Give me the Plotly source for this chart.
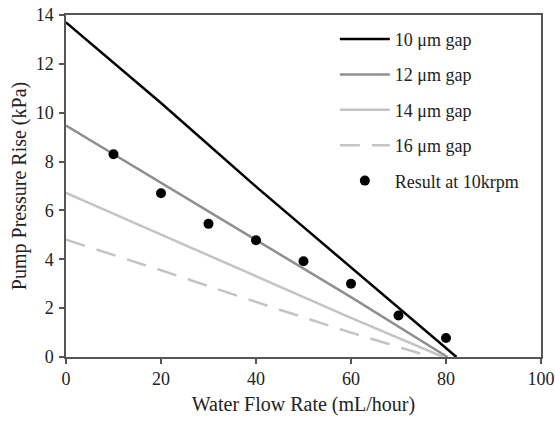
import plotly.graph_objects as go

flow_10 = [0, 20, 40.8, 60, 82.2]
p_10 = [13.7, 10.4, 6.84, 3.65, 0.0]

flow_12 = [0, 22.5, 40, 60, 80.3]
p_12 = [9.47, 6.84, 4.8, 2.45, 0.0]

flow_14 = [0, 17.7, 40, 60, 79.4]
p_14 = [6.72, 5.2, 3.3, 1.6, 0.0]

flow_16 = [0, 20, 43, 60, 77.0]
p_16 = [4.8, 3.55, 2.06, 1.0, 0.0]

flow_exp = [10, 20, 30, 40, 50, 60, 70, 80]
p_exp = [8.3, 6.7, 5.45, 4.78, 3.92, 3.0, 1.7, 0.78]

FONT = "Liberation Serif"

fig = go.Figure()
fig.add_trace(go.Scatter(x=flow_10, y=p_10, mode="lines", name="10 μm gap",
                         line=dict(color="black", width=2.5), legendgroup="a"))
fig.add_trace(go.Scatter(x=flow_12, y=p_12, mode="lines", name="12 μm gap",
                         line=dict(color="#8f8f8f", width=2.5), legendgroup="b"))
fig.add_trace(go.Scatter(x=flow_14, y=p_14, mode="lines", name="14 μm gap",
                         line=dict(color="#c4c4c4", width=2.5), legendgroup="c"))
fig.add_trace(go.Scatter(x=flow_16, y=p_16, mode="lines", name="16 μm gap",
                         line=dict(color="#c4c4c4", width=2.5, dash="20px,12px"), legendgroup="d"))
fig.add_trace(go.Scatter(x=flow_exp, y=p_exp, mode="markers", name="Result at 10krpm",
                         marker=dict(color="black", size=10), legendgroup="e"))

axis_common = dict(showline=True, linecolor="#555", linewidth=1.5, mirror=True,
                   ticks="outside", ticklen=5, tickcolor="#555", tickwidth=1.5,
                   showgrid=False, zeroline=False, automargin=False,
                   tickfont=dict(family=FONT, size=18, color="#222"))

fig.update_layout(
    width=555, height=421,
    margin=dict(l=66, r=14, t=15, b=64),
    paper_bgcolor="white", plot_bgcolor="white",
    font=dict(family=FONT, color="#222"),
    xaxis=dict(range=[0, 100], dtick=20, **axis_common,
               title=dict(text="Water Flow Rate (mL/hour)", font=dict(family=FONT, size=20), standoff=9)),
    yaxis=dict(range=[0, 14], dtick=2, ticklabelstandoff=2, **axis_common,
               title=dict(text="Pump Pressure Rise (kPa)", font=dict(family=FONT, size=20), standoff=4)),
    legend=dict(x=0.566, y=0.983, xanchor="left", yanchor="top",
                bgcolor="rgba(0,0,0,0)", font=dict(family=FONT, size=18, color="#222"),
                tracegroupgap=9, itemwidth=50),
)

fig.write_html("out.html", config={"displayModeBar": False},
               post_script="document.body.style.margin='0';document.body.style.padding='0';")
